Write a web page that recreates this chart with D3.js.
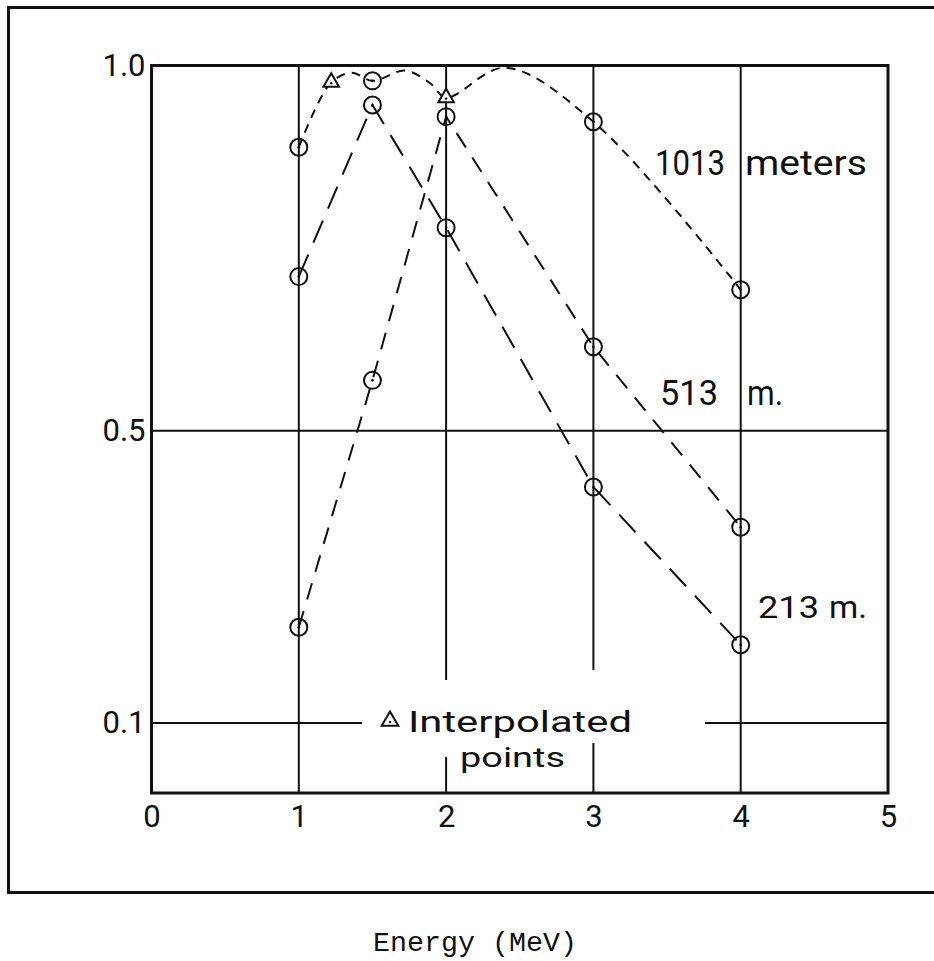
<!DOCTYPE html>
<html>
<head>
<meta charset="utf-8">
<script src="https://cdn.jsdelivr.net/npm/d3@7"></script>
<style>
  html, body { margin: 0; padding: 0; background: #fff; }
  svg { display: block; }
  .lettering { font-family: Roboto, "Open Sans", "DejaVu Sans", sans-serif; font-weight: 400; fill: #111; }
  .typed { font-family: "Liberation Mono", "Courier New", "DejaVu Sans Mono", monospace; fill: #111; }
</style>
</head>
<body>
<svg id="chart" width="934" height="961"></svg>
<script>
// Photon energies (MeV) at which the response was measured
const energies = [1, 1.5, 2, 3, 4];
// Relative response at 213 m and 513 m depth
const depth213 = [0.711, 0.946, 0.778, 0.423, 0.207];
const depth513 = [0.231, 0.569, 0.930, 0.615, 0.368];
// 1013 m depth: measured points
const energies1013 = [1, 1.5, 3, 4];
const depth1013 = [0.888, 0.979, 0.923, 0.693];
// 1013 m depth: interpolated points
const interpEnergies1013 = [1.22, 2];
const interp1013 = [0.977, 0.956];
// freehand guide curve drawn through the 1013 m points
const curveEnergies1013 = [1, 1.22, 1.36, 1.5, 1.72, 1.89, 2, 2.4, 3, 4];
const curve1013 = [0.888, 0.977, 0.990, 0.979, 0.993, 0.976, 0.956, 0.997, 0.923, 0.693];

// axis ticks and grid
const xTicks = [0, 1, 2, 3, 4, 5];
const yTicks = [1.0, 0.5, 0.1];
const gridX = [1, 2, 3, 4];
const gridY = [0.5, 0.1];

const svg = d3.select("#chart");
const ink = "#111";

const x = d3.scaleLinear().domain([0, 5]).range([151.5, 888]);
const y = d3.scaleLinear().domain([0, 1]).range([796, 65.5]);
const plotTop = y(1);
const plotBottom = 793;

// outer frame (right side runs off the page)
svg.append("rect")
  .attr("x", 8.5).attr("y", 7.5).attr("width", 940).attr("height", 885)
  .attr("fill", "none").attr("stroke", ink).attr("stroke-width", 3);

// grid lines, broken where the legend text sits
const vGaps = { 2: [680, 757], 3: [670, 743] };
const hGaps = { 0.1: [362, 705] };
const grid = svg.append("g").attr("stroke", ink).attr("stroke-width", 2);
gridX.forEach(v => {
  const g = vGaps[v];
  const segs = g ? [[plotTop, g[0]], [g[1], plotBottom]] : [[plotTop, plotBottom]];
  segs.forEach(([a, b]) => grid.append("line")
    .attr("x1", x(v)).attr("x2", x(v)).attr("y1", a).attr("y2", b));
});
gridY.forEach(v => {
  const g = hGaps[v];
  const segs = g ? [[x(0), g[0]], [g[1], x(5)]] : [[x(0), x(5)]];
  segs.forEach(([a, b]) => grid.append("line")
    .attr("x1", a).attr("x2", b).attr("y1", y(v)).attr("y2", y(v)));
});

// plot frame
svg.append("rect")
  .attr("x", x(0)).attr("y", plotTop)
  .attr("width", x(5) - x(0)).attr("height", plotBottom - plotTop)
  .attr("fill", "none").attr("stroke", ink).attr("stroke-width", 3);

// axes (labels only)
const xAxis = svg.append("g")
  .attr("transform", `translate(0,${plotBottom})`)
  .call(d3.axisBottom(x).tickValues(xTicks).tickSize(0).tickPadding(12).tickFormat(d3.format("d")));
const yAxis = svg.append("g")
  .attr("transform", `translate(${x(0)},0)`)
  .call(d3.axisLeft(y).tickValues(yTicks).tickSize(0).tickPadding(6).tickFormat(d3.format(".1f")));
[xAxis, yAxis].forEach(a => {
  a.select(".domain").remove();
  a.selectAll("text").attr("class", "lettering").attr("fill", ink)
    .style("font-size", "31px");
});

// response curves
const line = d3.line().x(d => x(d[0])).y(d => y(d[1]));
const smooth = d3.line().x(d => x(d[0])).y(d => y(d[1])).curve(d3.curveCatmullRom.alpha(0.5));
const zip = (a, b) => a.map((v, i) => [v, b[i]]);

svg.append("path").datum(zip(energies, depth213))
  .attr("d", line).attr("fill", "none").attr("stroke", ink)
  .attr("stroke-width", 2).attr("stroke-dasharray", "24,13");
svg.append("path").datum(zip(energies, depth513))
  .attr("d", line).attr("fill", "none").attr("stroke", ink)
  .attr("stroke-width", 2).attr("stroke-dasharray", "17,12");
svg.append("path").datum(zip(curveEnergies1013, curve1013))
  .attr("d", smooth).attr("fill", "none").attr("stroke", ink)
  .attr("stroke-width", 2).attr("stroke-dasharray", "9,7");

// measured points: open circles with a centre dot
const measured = [].concat(zip(energies, depth213), zip(energies, depth513), zip(energies1013, depth1013));
const pts = svg.append("g");
pts.selectAll("circle.ring").data(measured).join("circle")
  .attr("class", "ring")
  .attr("cx", d => x(d[0])).attr("cy", d => y(d[1])).attr("r", 8.5)
  .attr("fill", "none").attr("stroke", ink).attr("stroke-width", 2);
pts.selectAll("circle.dot").data(measured).join("circle")
  .attr("class", "dot")
  .attr("cx", d => x(d[0])).attr("cy", d => y(d[1])).attr("r", 1.3).attr("fill", ink);

// interpolated points: open triangles
const tri = d3.symbol(d3.symbolTriangle, 105);
const interp = zip(interpEnergies1013, interp1013);
pts.selectAll("path.tri").data(interp).join("path")
  .attr("class", "tri")
  .attr("transform", d => `translate(${x(d[0])},${y(d[1])})`)
  .attr("d", tri).attr("fill", "#fff").attr("stroke", ink).attr("stroke-width", 2);
pts.selectAll("circle.tdot").data(interp).join("circle")
  .attr("class", "tdot")
  .attr("cx", d => x(d[0])).attr("cy", d => y(d[1]) + 1).attr("r", 1.2).attr("fill", ink);

// curve labels and legend text
const labels = [
  { t: "1013", x: 655, y: 175, s: 35, w: 70 },
  { t: "meters", x: 745, y: 175, s: 35, w: 122 },
  { t: "513", x: 660, y: 405, s: 35, w: 58 },
  { t: "m.", x: 747, y: 405, s: 35, w: 36 },
  { t: "213", x: 758, y: 618, s: 32, w: 61 },
  { t: "m.", x: 829, y: 618, s: 32, w: 38 },
  { t: "Interpolated", x: 408, y: 732, s: 29, w: 224 },
  { t: "points", x: 460, y: 767, s: 28, w: 105 }
];
svg.append("g").selectAll("text").data(labels).join("text")
  .attr("class", "lettering")
  .attr("x", d => d.x).attr("y", d => d.y)
  .attr("textLength", d => d.w).attr("lengthAdjust", "spacingAndGlyphs")
  .style("font-size", d => d.s + "px")
  .text(d => d.t);

// legend symbol
svg.append("path")
  .attr("transform", "translate(390,721)")
  .attr("d", d3.symbol(d3.symbolTriangle, 120))
  .attr("fill", "#fff").attr("stroke", ink).attr("stroke-width", 2);
svg.append("circle").attr("cx", 390).attr("cy", 722).attr("r", 1.3).attr("fill", ink);

// axis title
svg.append("text")
  .attr("class", "typed")
  .attr("x", 373).attr("y", 951)
  .attr("textLength", 204).attr("lengthAdjust", "spacingAndGlyphs")
  .style("font-size", "27px")
  .text("Energy (MeV)");
</script>
</body>
</html>
